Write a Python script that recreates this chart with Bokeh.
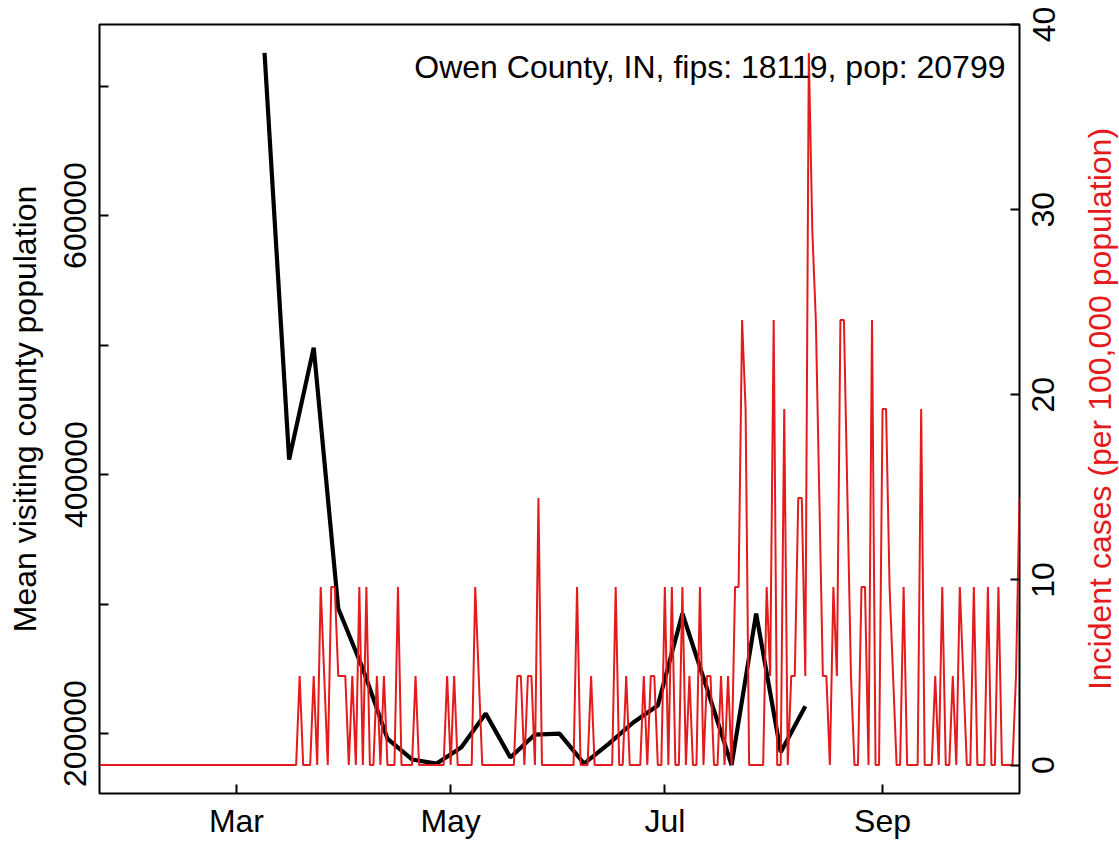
import math
import numpy as np
import pandas as pd
from bokeh.plotting import figure
from bokeh.layouts import row
from bokeh.models import Range1d, LinearAxis, FixedTicker, DatetimeTickFormatter, Label
from bokeh.core.properties import value
from bokeh.embed import file_html
from bokeh.resources import INLINE

# ---------------- data ----------------
county_label = "Owen County, IN, fips: 18119, pop: 20799"
population = 20799

# daily incident case counts, starting 2020-01-22
case_start = "2020-01-22"
daily_cases = (
    [0] * 50 +
    [0, 0, 0, 0, 0, 0, 0, 1, 0, 0] +          # 50-59
    [0, 1, 0, 2, 1, 0, 2, 2, 1, 1] +          # 60-69
    [1, 0, 1, 0, 2, 0, 2, 0, 0, 1] +          # 70-79
    [0, 1, 0, 0, 0, 2, 0, 0, 0, 0] +          # 80-89
    [1, 0, 0, 0, 0, 0, 0, 0, 0, 1] +          # 90-99
    [0, 1, 0, 0, 0, 0, 0, 2, 1, 0] +          # 100-109
    [0, 0, 0, 0, 0, 0, 0, 0, 0, 1] +          # 110-119
    [1, 0, 1, 1, 0, 3, 0, 0, 0, 0] +          # 120-129
    [0, 0, 0, 0, 0, 0, 2, 0, 0, 0] +          # 130-139
    [1, 0, 0, 0, 0, 0, 0, 2, 0, 0] +          # 140-149
    [1, 0, 0, 0, 0, 1, 0, 1, 1, 0] +          # 150-159
    [0, 2, 0, 2, 0, 0, 2, 0, 1, 0] +          # 160-169
    [0, 2, 0, 1, 1, 0, 0, 1, 0, 1] +          # 170-179
    [0, 2, 2, 5, 4, 0, 0, 0, 0, 0] +          # 180-189
    [2, 1, 5, 0, 0, 4, 0, 1, 1, 3] +          # 190-199
    [3, 1, 8, 6, 5, 3, 1, 1, 0, 2] +          # 200-209
    [1, 5, 5, 3, 1, 0, 0, 2, 2, 0] +          # 210-219
    [5, 0, 0, 4, 4, 2, 1, 0, 0, 2] +          # 220-229
    [0, 0, 0, 0, 4, 0, 0, 0, 1, 0] +          # 230-239
    [2, 0, 0, 1, 0, 2, 1, 0, 0, 2] +          # 240-249
    [0, 0, 0, 2, 0, 0, 2, 0, 0, 0] +          # 250-259
    [0, 1, 3]                                 # 260-262
)

# weekly mean visiting county population, starting 2020-03-09
visit_start = "2020-03-09"
mean_visiting = [725500, 411500, 498000, 296500, 250000, 196100, 180000, 176800,
                 189200, 215400, 181500, 199200, 200000, 176800, 192000, 208500,
                 221600, 292700, 234700, 175700, 292700, 185600, 221100]

x_tick_dates = ["2020-03-01", "2020-05-01", "2020-07-01", "2020-09-01"]
left_ticks = [200000, 300000, 400000, 500000, 600000, 700000]
left_tick_labels = ["200000", "", "400000", "", "600000", ""]
right_ticks = [0, 10, 20, 30, 40]
right_tick_labels = ["0", "10", "20", "30", "40"]

left_title = "Mean visiting county population"
right_title = "Incident cases (per 100,000 population)"

# ---------------- derived ----------------
case_dates = pd.date_range(case_start, periods=len(daily_cases), freq="D")
incidence = np.array(daily_cases, dtype=float) / population * 100000.0
visit_dates = pd.date_range(visit_start, periods=len(mean_visiting), freq="7D")

def ms(d):
    return pd.Timestamp(d).value / 1e6

def padded(lo, hi, f=0.04):
    r = hi - lo
    return lo - f * r, hi + f * r

RED = "#E41A1C"
FONT = "Liberation Sans"
FS = "32px"

# layout (pixels)
W, H = 1119, 842
B_LEFT, B_TOP, B_BOTTOM = 99, 24, 49
FRAME_W = 920
B_RIGHT = 6
MAIN_W = B_LEFT + FRAME_W + B_RIGHT
SIDE_W = W - MAIN_W
SIDE_B_LEFT = 32        # side panel: room for the right tick labels
RTITLE_GAP = 80         # px from main frame edge to right title centre

x0, x1 = ms(case_dates[0]), ms(case_dates[-1])
l0, l1 = padded(min(mean_visiting), max(mean_visiting))
r0, r1 = padded(0.0, float(incidence.max()))

p = figure(width=MAIN_W, height=H, x_axis_type="datetime",
           x_range=Range1d(x0, x1), y_range=Range1d(l0, l1),
           output_backend="svg", toolbar_location=None,
           min_border_left=B_LEFT, min_border_right=B_RIGHT,
           min_border_top=B_TOP, min_border_bottom=B_BOTTOM)
p.extra_y_ranges = {"cases": Range1d(r0, r1)}

p.grid.visible = False
p.background_fill_color = "white"
p.border_fill_color = "white"
p.outline_line_color = "black"
p.outline_line_width = 2

# black mobility line (left axis), then red incidence line on top (right axis)
p.line(visit_dates, mean_visiting, color="black", line_width=4.2)
p.line(case_dates, incidence, y_range_name="cases", color=RED, line_width=2)

def style_axis(ax):
    ax.axis_line_color = None
    ax.major_tick_in = 9
    ax.major_tick_out = 0
    ax.major_tick_line_width = 2
    ax.major_tick_line_color = "black"
    ax.minor_tick_line_color = None
    ax.major_label_text_font = FONT
    ax.major_label_text_font_size = FS
    ax.major_label_text_color = "black"
    ax.axis_label_text_font = FONT
    ax.axis_label_text_font_size = FS
    ax.axis_label_text_font_style = "normal"
    ax.axis_label_text_color = "black"

# bottom axis
xa = p.xaxis[0]
style_axis(xa)
xa.ticker = FixedTicker(ticks=[ms(d) for d in x_tick_dates])
fmt = "%b"
xa.formatter = DatetimeTickFormatter(
    microseconds=fmt, milliseconds=fmt, seconds=fmt, minsec=fmt, minutes=fmt,
    hourmin=fmt, hours=fmt, days=fmt, months=fmt, years=fmt)
xa.major_label_standoff = 9

# left axis
ya = p.yaxis[0]
style_axis(ya)
ya.ticker = FixedTicker(ticks=left_ticks)
ya.major_label_overrides = {t: s for t, s in zip(left_ticks, left_tick_labels)}
ya.major_label_orientation = "vertical"
ya.major_label_standoff = 13
ya.axis_label = left_title
ya.axis_label_standoff = 19

# right axis of the main plot: inward ticks only
ra = LinearAxis(y_range_name="cases", ticker=FixedTicker(ticks=right_ticks))
style_axis(ra)
ra.major_label_overrides = {t: "" for t in right_ticks}
ra.major_label_text_font_size = "0px"
ra.major_label_standoff = 0
p.add_layout(ra, "right")

# county annotation, top-right inside the frame
p.add_layout(Label(x=x1, y=l1, x_offset=-14, y_offset=-42, text=county_label,
                   text_align="right", text_baseline="middle",
                   text_font=FONT, text_font_size=FS, text_color="black"))

# side panel: its frame is aligned with the main frame, and it uses the same
# incidence scale; its left axis carries the right-hand tick labels
side_frame_left = MAIN_W + SIDE_B_LEFT - (B_LEFT + FRAME_W)   # px right of main frame
side = figure(width=SIDE_W, height=H, output_backend="svg", toolbar_location=None,
              x_range=Range1d(side_frame_left, W - (B_LEFT + FRAME_W)),
              y_range=Range1d(r0, r1),
              x_axis_location=None,
              min_border_left=SIDE_B_LEFT, min_border_right=0,
              min_border_top=B_TOP, min_border_bottom=B_BOTTOM)
side.grid.visible = False
side.outline_line_color = None
side.background_fill_color = None
side.border_fill_color = None

sa = side.yaxis[0]
sa.ticker = FixedTicker(ticks=right_ticks)
sa.major_label_overrides = {t: s for t, s in zip(right_ticks, right_tick_labels)}
sa.axis_line_color = None
sa.major_tick_in = 0
sa.major_tick_out = 0
sa.minor_tick_line_color = None
sa.major_tick_line_color = None
sa.major_label_orientation = "vertical"
sa.major_label_standoff = 3
sa.major_label_text_font = FONT
sa.major_label_text_font_size = FS
sa.major_label_text_color = "black"

side.text(x=[RTITLE_GAP], y=[(r0 + r1) / 2], text=[right_title],
          angle=math.pi / 2, text_align="center", text_baseline="middle",
          text_font=value(FONT), text_font_size=FS, text_color=RED)

layout = row(p, side, spacing=0)
open("out.html", "w").write(file_html(layout, INLINE))
